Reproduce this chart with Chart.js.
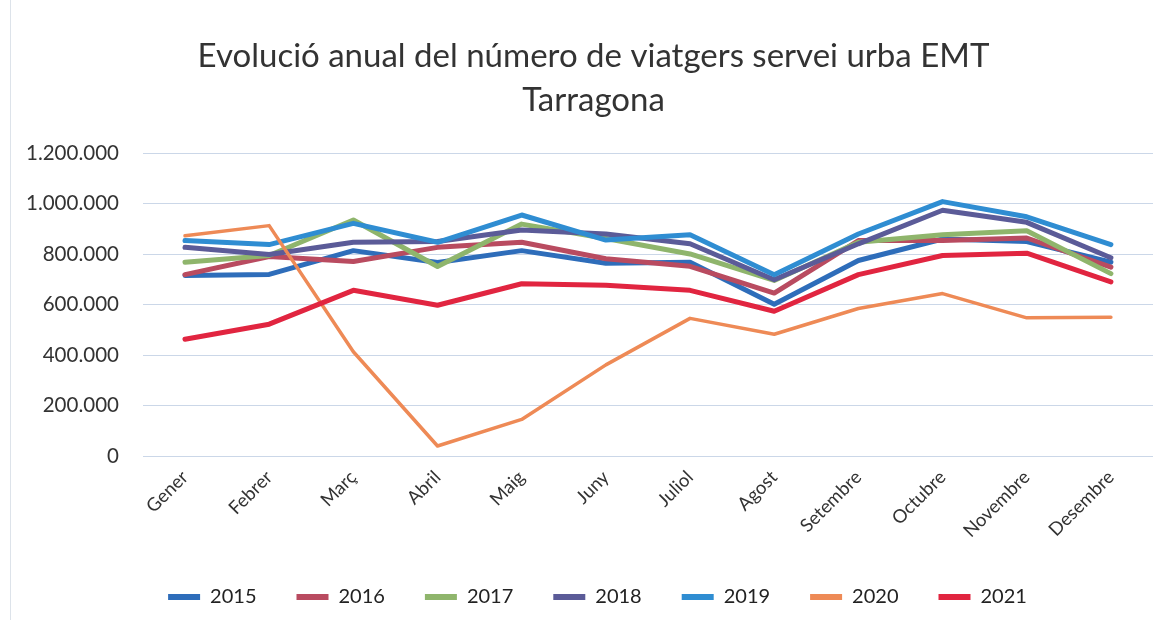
<!DOCTYPE html>
<html>
<head>
<meta charset="utf-8">
<script src="https://cdn.jsdelivr.net/npm/chart.js@4/dist/chart.umd.min.js"></script>
<style>
  html, body { margin: 0; padding: 0; background: #ffffff; }
  #wrap { position: relative; width: 1167px; height: 625px; }
  #edge { position: absolute; left: 10px; top: 0; width: 0; height: 620px; border-left: 1px solid #dde3ea; }
</style>
</head>
<body>
<div id="wrap">
  <div id="edge"></div>
  <canvas id="c" width="1167" height="625"></canvas>
</div>
<script>
const categories = ['Gener','Febrer','Març','Abril','Maig','Juny','Juliol','Agost','Setembre','Octubre','Novembre','Desembre'];
const seriesNames = ['2015','2016','2017','2018','2019','2020','2021'];
const v2015 = [716000, 720000, 814000, 767000, 814000, 764000, 768000, 602000, 775000, 860000, 850000, 768000];
const v2016 = [719000, 791000, 771000, 827000, 847000, 782000, 752000, 646000, 854000, 854000, 864000, 749000];
const v2017 = [768000, 795000, 935000, 751000, 919000, 862000, 801000, 696000, 847000, 877000, 893000, 723000];
const v2018 = [827000, 799000, 847000, 850000, 896000, 880000, 841000, 699000, 841000, 974000, 926000, 786000];
const v2019 = [854000, 838000, 922000, 847000, 955000, 856000, 877000, 719000, 880000, 1008000, 948000, 838000];
const v2020 = [873000, 913000, 414000, 41000, 146000, 362000, 546000, 483000, 585000, 644000, 548000, 550000];
const v2021 = [463000, 523000, 657000, 598000, 683000, 677000, 657000, 574000, 719000, 795000, 804000, 690000];
const yTicks = [0, 200000, 400000, 600000, 800000, 1000000, 1200000];

const seriesValues = [v2015, v2016, v2017, v2018, v2019, v2020, v2021];
const colors = ['#2e6dba', '#b94b60', '#8fb56c', '#5b5b98', '#2f8dd2', '#ee8a56', '#e12540'];
const widths = [5, 5, 5, 5, 5, 3.5, 5];

function fmt(n) { return String(n).replace(/\B(?=(\d{3})+(?!\d))/g, '.'); }

const FONT = 'Lato, "Open Sans", sans-serif';

const datasets = seriesNames.map((name, i) => ({
  label: name,
  data: seriesValues[i],
  borderColor: colors[i],
  backgroundColor: colors[i],
  borderWidth: widths[i],
  pointRadius: 0,
  tension: 0,
  borderCapStyle: 'round',
  borderJoinStyle: 'round',
  order: seriesNames.length - i
}));

// Shift title and legend horizontally (the original chart frame is wider than the crop)
const shiftBlocks = {
  id: 'shiftBlocks',
  afterLayout(chart) {
    if (chart.titleBlock) { chart.titleBlock.left += 16; chart.titleBlock.right += 16; }
    if (chart.legend) { chart.legend.left += 20; chart.legend.right += 20; }
  }
};

new Chart(document.getElementById('c'), {
  type: 'line',
  data: { labels: categories, datasets },
  plugins: [shiftBlocks],
  options: {
    responsive: false,
    animation: false,
    layout: { padding: { top: 34, left: 2, right: 14, bottom: 8 } },
    plugins: {
      title: {
        display: true,
        text: ['Evolució anual del número de viatgers servei urba EMT', 'Tarragona'],
        color: '#333333',
        font: { family: FONT, size: 33, weight: 'normal', lineHeight: 1.35 },
        padding: { top: 0, bottom: 30 }
      },
      legend: {
        position: 'bottom',
        labels: {
          color: '#222222',
          font: { family: FONT, size: 20 },
          boxWidth: 32,
          boxHeight: 6,
          padding: 40,
          sort: (a, b) => a.datasetIndex - b.datasetIndex,
          generateLabels: (chart) => {
            const items = Chart.defaults.plugins.legend.labels.generateLabels(chart);
            items.forEach(it => { it.lineWidth = 0; it.strokeStyle = 'rgba(0,0,0,0)'; });
            return items;
          }
        }
      },
      tooltip: { enabled: false }
    },
    scales: {
      x: {
        offset: true,
        grid: { display: false },
        border: { display: false },
        afterFit: (axis) => { axis.height += 3; },
        ticks: {
          color: '#333333',
          font: { family: FONT, size: 18.5 },
          maxRotation: 45,
          minRotation: 45,
          padding: 2
        }
      },
      y: {
        min: 0,
        max: 1200000,
        afterBuildTicks: (axis) => { axis.ticks = yTicks.map(v => ({ value: v })); },
        grid: { color: '#cbd7e8', lineWidth: 1, drawTicks: false },
        border: { display: false },
        ticks: {
          color: '#333333',
          font: { family: FONT, size: 20.5 },
          padding: 24,
          callback: (v) => fmt(v)
        }
      }
    }
  }
});
</script>
</body>
</html>
